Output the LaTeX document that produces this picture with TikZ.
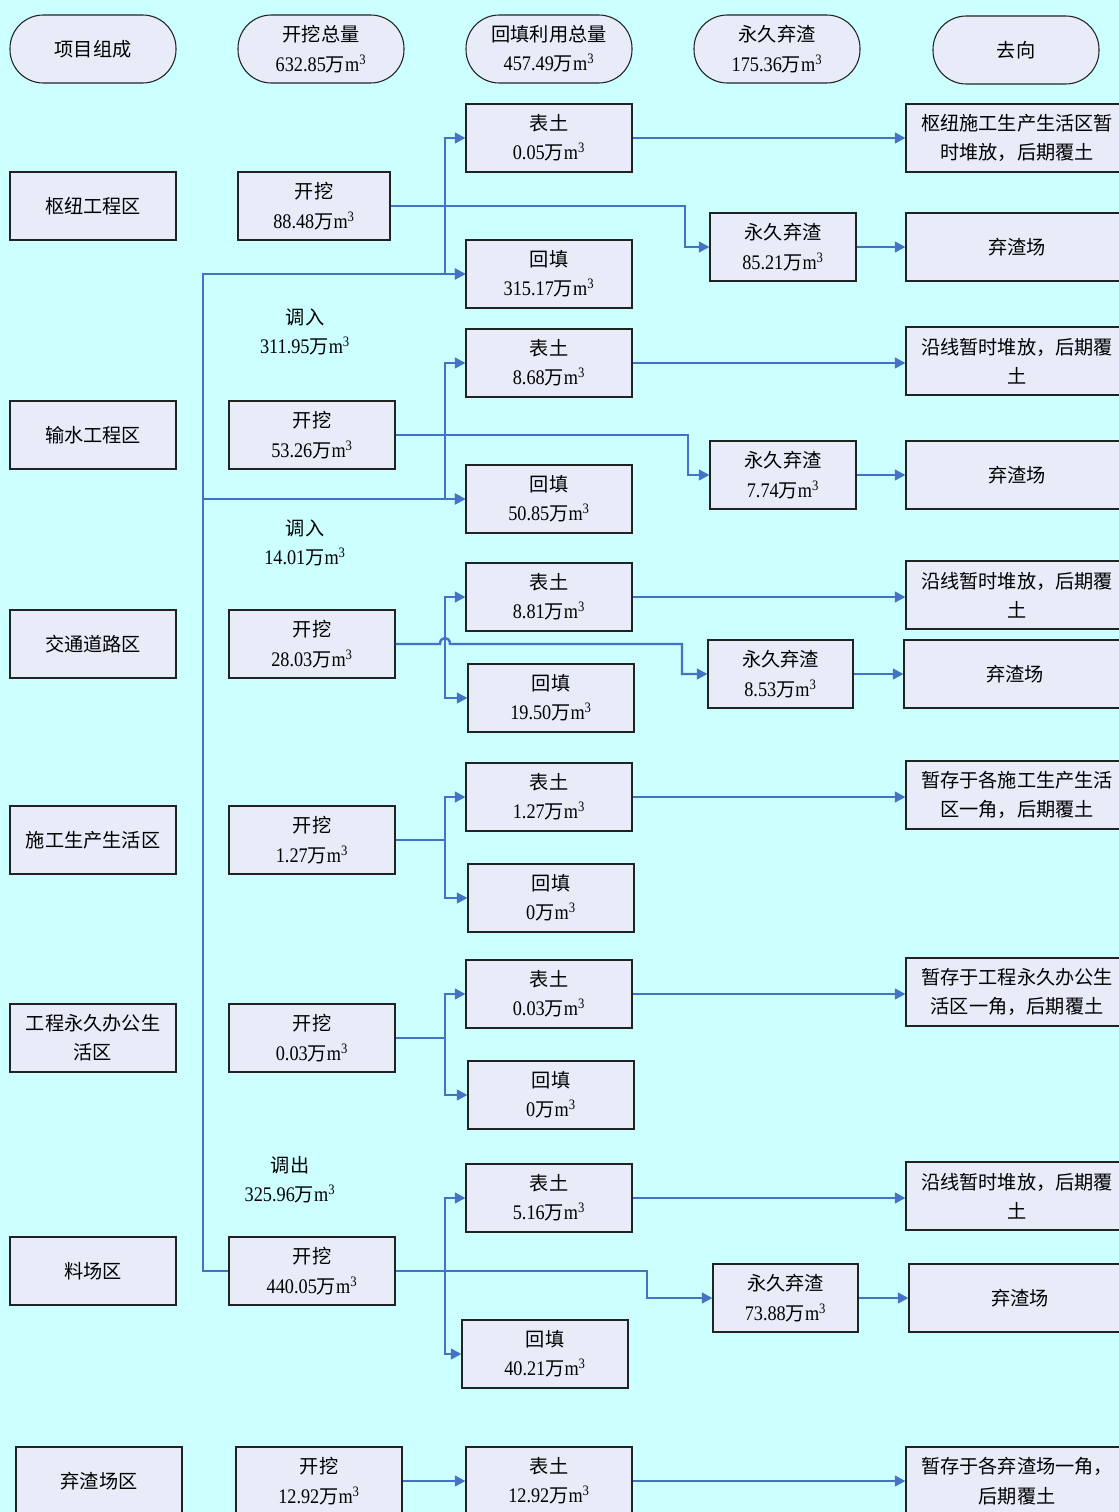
\documentclass[tikz,border=0pt]{standalone}
\usepackage{fontspec}
\setmainfont{Noto Sans CJK SC}
\newfontfamily\lat[FakeStretch=0.88,Scale=1.08]{Liberation Serif}
\usetikzlibrary{arrows.meta}
\definecolor{bgc}{HTML}{CCFFFF}
\definecolor{boxc}{HTML}{E7ECF8}
\definecolor{linec}{HTML}{4472C4}
\definecolor{bordc}{HTML}{222222}
\newcommand\amt[1]{{\lat #1}万{\lat m\textsuperscript{3}}}
\newcommand\bx[7][box]{\node[#1, minimum width={(#5-#3)*0.75pt}, minimum height={(#6-#4)*0.75pt}] (#2) at ({(#3+#5)/2},{(#4+#6)/2}) {#7};}
\begin{document}
\begin{tikzpicture}[x=0.75pt,y=-0.75pt, font=\fontsize{14.4}{22}\selectfont,
 box/.style={draw=bordc, fill=boxc, line width=0.8pt, inner sep=0pt, align=center},
 hdr/.style={box, rounded corners=25pt},
 lbl/.style={align=center, inner sep=0pt},
 conn/.style={draw=linec, line width=1.8pt},
 arr/.style={conn, -{Triangle[length=8pt,width=8pt]}}]
\path[use as bounding box, fill=bgc] (0,0) rectangle (1119,1512);
\clip (0,0) rectangle (1119,1512);
% headers
\bx[hdr]{H1}{10}{15}{176}{83}{项目组成}
\bx[hdr]{H2}{238}{15}{404}{83}{开挖总量\\\amt{632.85}}
\bx[hdr]{H3}{466}{15}{632}{83}{回填利用总量\\\amt{457.49}}
\bx[hdr]{H4}{694}{15}{860}{83}{永久弃渣\\\amt{175.36}}
\bx[hdr]{H5}{933}{16}{1099}{84}{去向}
% areas
\bx{A1}{10}{172}{176}{240}{枢纽工程区}
\bx{A2}{10}{401}{176}{469}{输水工程区}
\bx{A3}{10}{610}{176}{678}{交通道路区}
\bx{A4}{10}{806}{176}{874}{施工生产生活区}
\bx{A5}{10}{1004}{176}{1072}{工程永久办公生\\活区}
\bx{A6}{10}{1237}{176}{1305}{料场区}
\bx{A7}{16}{1447}{182}{1515}{弃渣场区}
% excavation
\bx{K1}{238}{172}{390}{240}{开挖\\\amt{88.48}}
\bx{K2}{229}{401}{395}{469}{开挖\\\amt{53.26}}
\bx{K3}{229}{610}{395}{678}{开挖\\\amt{28.03}}
\bx{K4}{229}{806}{395}{874}{开挖\\\amt{1.27}}
\bx{K5}{229}{1004}{395}{1072}{开挖\\\amt{0.03}}
\bx{K6}{229}{1237}{395}{1305}{开挖\\\amt{440.05}}
\bx{K7}{236}{1447}{402}{1515}{开挖\\\amt{12.92}}
% topsoil
\bx{T1}{466}{104}{632}{172}{表土\\\amt{0.05}}
\bx{T2}{466}{329}{632}{397}{表土\\\amt{8.68}}
\bx{T3}{466}{563}{632}{631}{表土\\\amt{8.81}}
\bx{T4}{466}{763}{632}{831}{表土\\\amt{1.27}}
\bx{T5}{466}{960}{632}{1028}{表土\\\amt{0.03}}
\bx{T6}{466}{1164}{632}{1232}{表土\\\amt{5.16}}
\bx{T7}{466}{1447}{632}{1515}{表土\\\amt{12.92}}
% backfill
\bx{B1}{466}{240}{632}{308}{回填\\\amt{315.17}}
\bx{B2}{466}{465}{632}{533}{回填\\\amt{50.85}}
\bx{B3}{468}{664}{634}{732}{回填\\\amt{19.50}}
\bx{B4}{468}{864}{634}{932}{回填\\\amt{0}}
\bx{B5}{468}{1061}{634}{1129}{回填\\\amt{0}}
\bx{B6}{462}{1320}{628}{1388}{回填\\\amt{40.21}}
% permanent waste
\bx{W1}{710}{213}{856}{281}{永久弃渣\\\amt{85.21}}
\bx{W2}{710}{441}{856}{509}{永久弃渣\\\amt{7.74}}
\bx{W3}{708}{640}{853}{708}{永久弃渣\\\amt{8.53}}
\bx{W6}{713}{1264}{858}{1332}{永久弃渣\\\amt{73.88}}
% destinations
\bx{D1}{906}{104}{1128}{172}{枢纽施工生产生活区暂\\时堆放，后期覆土}
\bx{E1}{906}{213}{1128}{281}{弃渣场}
\bx{D2}{906}{327}{1128}{395}{沿线暂时堆放，后期覆\\土}
\bx{E2}{906}{441}{1128}{509}{弃渣场}
\bx{D3}{906}{561}{1128}{629}{沿线暂时堆放，后期覆\\土}
\bx{E3}{904}{640}{1126}{708}{弃渣场}
\bx{D4}{906}{761}{1128}{829}{暂存于各施工生产生活\\区一角，后期覆土}
\bx{D5}{906}{958}{1128}{1026}{暂存于工程永久办公生\\活区一角，后期覆土}
\bx{D6}{906}{1162}{1128}{1230}{沿线暂时堆放，后期覆\\土}
\bx{E6}{909}{1264}{1131}{1332}{弃渣场}
\bx{D7}{906}{1447}{1128}{1515}{暂存于各弃渣场一角，\\后期覆土}
% labels
\node[lbl] (L1) at (305,332) {调入\\\amt{311.95}};
\node[lbl] (L2) at (305,543) {调入\\\amt{14.01}};
\node[lbl] (L3) at (290,1180) {调出\\\amt{325.96}};
% branch x
\coordinate (v) at (445,0);
\coordinate (u) at (203,0);
% row 1
\draw[arr] (K1.east) -- (K1.east -| v) |- (T1.west);
\draw[arr] (K1.east -| v) |- (B1.west);
\draw[arr] (K1.east) -- (685,206) |- (W1.west);
% row 2
\draw[arr] (K2.east) -- (K2.east -| v) |- (T2.west);
\draw[arr] (K2.east -| v) |- (B2.west);
\draw[arr] (K2.east) -- (688,435) |- (W2.west);
% row 3
\draw[arr] (K3.east) -- (440,644) .. controls (440,636) and (450,636) .. (450,644) -- (682,644) |- (W3.west);
\draw[arr] (K3.east -| v) |- (T3.west);
\draw[arr] (K3.east -| v) |- (B3.west);
% row 4
\draw[conn] (K4.east) -- (K4.east -| v);
\draw[arr] (K4.east -| v) |- (T4.west);
\draw[arr] (K4.east -| v) |- (B4.west);
% row 5
\draw[conn] (K5.east) -- (K5.east -| v);
\draw[arr] (K5.east -| v) |- (T5.west);
\draw[arr] (K5.east -| v) |- (B5.west);
% row 6
\draw[arr] (K6.east) -- (K6.east -| v) |- (T6.west);
\draw[arr] (K6.east -| v) |- (B6.west);
\draw[arr] (K6.east) -- (647,1271) |- (W6.west);
% row 7
\draw[arr] (K7.east) -- (T7.west);
% transfer line
\draw[arr] (K6.west) -- (K6.west -| u) |- (B1.west);
\draw[arr] (B2.west -| u) -- (B2.west);
% topsoil destinations
\foreach \t/\d in {T1/D1,T2/D2,T3/D3,T4/D4,T5/D5,T6/D6,T7/D7}
  \draw[arr] (\t.east) -- (\t.east -| \d.west);
% waste destinations
\foreach \w/\e in {W1/E1,W2/E2,W3/E3,W6/E6}
  \draw[arr] (\w.east) -- (\w.east -| \e.west);
\end{tikzpicture}
\end{document}
